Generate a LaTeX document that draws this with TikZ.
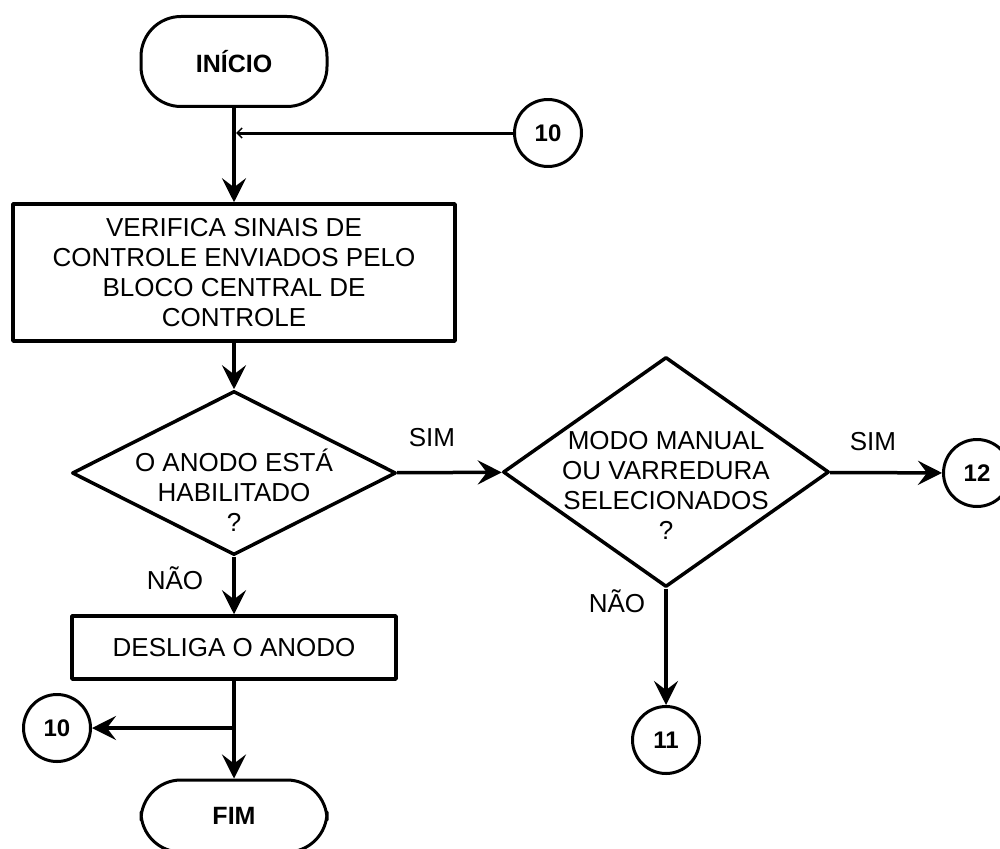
\documentclass[tikz,border=0pt]{standalone}
\usepackage{fontspec}
\setmainfont{Liberation Sans}
\usetikzlibrary{shapes.geometric,arrows.meta}

\begin{document}
\begin{tikzpicture}[x=1pt, y=-1pt, font=\fontsize{26}{30}\selectfont, line join=round,
  >={Stealth[length=24pt,width=24pt,inset=9pt]},
  term/.style={draw, line width=3pt, rounded corners=40pt, minimum width=186pt, minimum height=90pt, inner sep=0pt, font=\bfseries\fontsize{25}{30}\selectfont},
  proc/.style={draw, line width=3.5pt, align=center, inner sep=0pt},
  decision/.style={draw, diamond, line width=3.5pt, inner sep=0pt},
  conn/.style={draw, circle, line width=3pt, minimum size=67pt, inner sep=0pt, font=\bfseries\fontsize{24}{28}\selectfont},
  flow/.style={->, line width=3.5pt}]
\useasboundingbox (0,0) rectangle (1000,848);
\clip (0,0) rectangle (1000,848);
\node[term] (ini) at (234,61.5) {INÍCIO};
\node[conn] (c10a) at (548,133) {10};
\coordinate (j1) at (236,133);
\node[proc, minimum width=442pt, minimum height=137pt] (box1) at (234,272.5) {VERIFICA SINAIS DE\\CONTROLE ENVIADOS PELO\\BLOCO CENTRAL DE\\CONTROLE};
\node[decision, minimum width=324pt, minimum height=164pt] (d1) at (234,473) {};
\node[align=center] (q1) at (234,490) {O ANODO ESTÁ\\HABILITADO\\?};
\node[decision, minimum width=326pt, minimum height=230pt] (d2) at (666,472) {};
\node[align=center] (q2) at (666,485) {MODO MANUAL\\OU VARREDURA\\SELECIONADOS\\?};
\node[conn] (c12) at (977,473) {12};
\node[conn] (c11) at (666,740) {11};
\node[proc, minimum width=324pt, minimum height=63pt] (box2) at (234,647.5) {DESLIGA O ANODO};
\coordinate (j2) at (234,728);
\node[conn] (c10b) at (57,728) {10};
\node[term, minimum height=72pt] (fim) at (234,816) {FIM};
\node (sim1) at (432,438) {SIM};
\node (sim2) at (873,442) {SIM};
\node (nao1) at (175,578) {NÃO};
\node (nao2) at (617,601) {NÃO};
\draw[flow] (ini) -- (box1);
\draw[line width=3pt, -{Straight Barb[length=5pt,width=10pt,line width=1.5pt]}] (c10a) -- (j1);
\draw[flow] (box1) -- (d1);
\draw[flow] (d1) -- (d2);
\draw[flow] (d2) -- (c12);
\draw[flow] (d2) -- (c11);
\draw[flow] (d1) -- (box2);
\draw[flow] (box2) -- (fim);
\draw[flow] (j2) -- (c10b);
\end{tikzpicture}
\end{document}
